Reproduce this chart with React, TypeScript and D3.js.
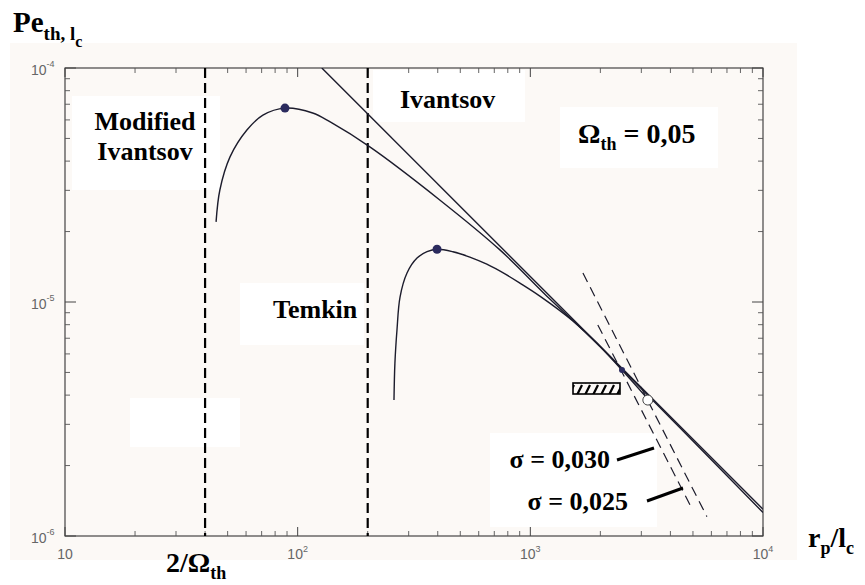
import React from "react";
import * as d3 from "d3";

// values: r_p/l_c (x) and Pe_th,lc (y)
const ivantsov = [
  { r: 127, pe: 1.0e-4 },
  { r: 10000, pe: 1.3e-6 },
];

const modifiedIvantsov = [
  { r: 44.6, pe: 2.2e-5 },
  { r: 46.3, pe: 3.01e-5 },
  { r: 51.2, pe: 4.17e-5 },
  { r: 60.5, pe: 5.43e-5 },
  { r: 70.9, pe: 6.29e-5 },
  { r: 88.2, pe: 6.74e-5 },
  { r: 116, pe: 6.42e-5 },
  { r: 138, pe: 5.88e-5 },
  { r: 205, pe: 4.59e-5 },
  { r: 408, pe: 2.73e-5 },
  { r: 740, pe: 1.67e-5 },
  { r: 1213, pe: 1.03e-5 },
  { r: 1991, pe: 6.49e-6 },
  { r: 2477, pe: 5.17e-6 },
  { r: 4395, pe: 2.9e-6 },
  { r: 10000, pe: 1.26e-6 },
];

const temkin = [
  { r: 259.4, pe: 3.81e-6 },
  { r: 261.8, pe: 5.48e-6 },
  { r: 267.2, pe: 7.59e-6 },
  { r: 275.4, pe: 1.05e-5 },
  { r: 295.1, pe: 1.33e-5 },
  { r: 325.8, pe: 1.54e-5 },
  { r: 359.7, pe: 1.64e-5 },
  { r: 397.2, pe: 1.68e-5 },
  { r: 464.5, pe: 1.64e-5 },
  { r: 549.5, pe: 1.556e-5 },
  { r: 650.1, pe: 1.45e-5 },
  { r: 778, pe: 1.318e-5 },
  { r: 901.6, pe: 1.205e-5 },
  { r: 1099, pe: 1.06e-5 },
  { r: 1524, pe: 8.3e-6 },
  { r: 1991, pe: 6.45e-6 },
  { r: 2477, pe: 5.12e-6 },
  { r: 3199, pe: 3.85e-6 },
];

const sigma030 = [
  { r: 1950, pe: 7.98e-6 },
  { r: 4853, pe: 1.36e-6 },
];
const sigma025 = [
  { r: 1683, pe: 1.33e-5 },
  { r: 5741, pe: 1.21e-6 },
];

const filledMarkers = [
  { r: 88.2, pe: 6.74e-5 },
  { r: 397.2, pe: 1.68e-5 },
  { r: 2477, pe: 5.12e-6 },
];
const openMarkers = [{ r: 3199, pe: 3.81e-6 }];

const boundaries = [40, 200]; // 2/Omega_th and the Temkin limit

const xTicks = [10, 100, 1000, 10000];
const xTickLabels = ["", "2", "3", "4"];
const yTicks = [1e-4, 1e-5, 1e-6];
const yTickLabels = ["-4", "-5", "-6"];

const W = 865;
const H = 585;
const serif = "'Liberation Serif', 'Times New Roman', serif";
const sans = "'Liberation Sans', Arial, sans-serif";
const ink = "#1c1c2c";

export default function App() {
  const x = d3.scaleLog().domain([10, 1e4]).range([65, 763]);
  const y = d3.scaleLog().domain([1e-6, 1e-4]).range([536, 68]);

  const line = d3
    .line<{ r: number; pe: number }>()
    .x((d) => x(d.r))
    .y((d) => y(d.pe));
  const curve = d3
    .line<{ r: number; pe: number }>()
    .x((d) => x(d.r))
    .y((d) => y(d.pe))
    .curve(d3.curveCatmullRom.alpha(0.5));

  // minor log ticks 2..9 in every decade
  const minorX: number[] = [];
  for (let k = 1; k < 4; k++) for (let m = 2; m < 10; m++) minorX.push(m * 10 ** k);
  const minorY: number[] = [];
  for (let k = -6; k < -4; k++) for (let m = 2; m < 10; m++) minorY.push(m * 10 ** k);

  const [x0, x1] = x.range();
  const [y0, y1] = y.range();

  return (
    <svg
      width={W}
      height={H}
      style={{ position: "absolute", left: 0, top: 0, background: "#fff" }}
    >
      <defs>
        <pattern id="hatch" width="8" height="12" patternUnits="userSpaceOnUse">
          <line x1="1" y1="11" x2="6" y2="1" stroke="#000" strokeWidth="2.2" />
        </pattern>
        <clipPath id="plot">
          <rect x={x0} y={y1} width={x1 - x0} height={y0 - y1} />
        </clipPath>
      </defs>

      {/* scanned page background and white label patches */}
      <rect x={10} y={43} width={787} height={517} fill="#fcf9f6" />
      <rect x={72} y={96} width={148} height={94} fill="#fff" />
      <rect x={373} y={70} width={152} height={52} fill="#fff" />
      <rect x={240} y={283} width={124} height={62} fill="#fff" />
      <rect x={560} y={107} width={158} height={61} fill="#fff" />
      <rect x={130} y={398} width={110} height={49} fill="#fff" />
      <rect x={490} y={433} width={167} height={94} fill="#fff" />

      {/* frame */}
      <rect x={x0} y={y1} width={x1 - x0} height={y0 - y1} fill="none" stroke="#333" strokeWidth={1.1} />

      {/* ticks */}
      {minorX.map((t) => (
        <g key={"mx" + t} stroke="#555" strokeWidth={0.9}>
          <line x1={x(t)} x2={x(t)} y1={y0} y2={y0 - 5} />
          <line x1={x(t)} x2={x(t)} y1={y1} y2={y1 + 5} />
        </g>
      ))}
      {xTicks.map((t) => (
        <g key={"X" + t} stroke="#444" strokeWidth={1}>
          <line x1={x(t)} x2={x(t)} y1={y0} y2={y0 - 9} />
          <line x1={x(t)} x2={x(t)} y1={y1} y2={y1 + 9} />
        </g>
      ))}
      {minorY.map((t) => (
        <g key={"my" + t} stroke="#555" strokeWidth={0.9}>
          <line x1={x0} x2={x0 + 5} y1={y(t)} y2={y(t)} />
          <line x1={x1} x2={x1 - 5} y1={y(t)} y2={y(t)} />
        </g>
      ))}
      {yTicks.map((t) => (
        <g key={"Y" + t} stroke="#444" strokeWidth={1}>
          <line x1={x0} x2={x0 + 11} y1={y(t)} y2={y(t)} />
          <line x1={x1} x2={x1 - 11} y1={y(t)} y2={y(t)} />
        </g>
      ))}

      {/* tick labels */}
      {xTicks.map((t, i) => (
        <text key={"xl" + t} x={x(t)} y={559} fill="#666" fontFamily={sans} fontSize={14} textAnchor="middle">
          10
          {xTickLabels[i] && (
            <tspan fontSize={9} dy={-7}>
              {xTickLabels[i]}
            </tspan>
          )}
        </text>
      ))}
      {yTicks.map((t, i) => (
        <text key={"yl" + t} x={31} y={y(t) + 7} fill="#666" fontFamily={sans} fontSize={14}>
          10
          <tspan fontSize={9} dy={-8}>
            {yTickLabels[i]}
          </tspan>
        </text>
      ))}

      {/* regime boundaries */}
      {boundaries.map((b) => (
        <line key={"b" + b} x1={x(b)} x2={x(b)} y1={y1} y2={y0} stroke="#000" strokeWidth={2.2} strokeDasharray="10 5" />
      ))}

      <g clipPath="url(#plot)" fill="none" stroke={ink} strokeWidth={1.4}>
        <path d={line(ivantsov) || ""} />
        <path d={curve(modifiedIvantsov) || ""} />
        <path d={curve(temkin) || ""} />
        <path d={line(sigma030) || ""} strokeWidth={1.2} strokeDasharray="10 6" />
        <path d={line(sigma025) || ""} strokeWidth={1.2} strokeDasharray="10 6" />
      </g>

      {filledMarkers.map((d, i) => (
        <circle key={"f" + i} cx={x(d.r)} cy={y(d.pe)} r={i === 2 ? 3 : 4.5} fill="#2b2b5e" />
      ))}
      {openMarkers.map((d, i) => (
        <circle key={"o" + i} cx={x(d.r)} cy={y(d.pe)} r={5} fill="#fff" stroke="#444" strokeWidth={1} />
      ))}

      {/* hatched box */}
      <rect x={573} y={383} width={47} height={11} fill="url(#hatch)" stroke="#000" strokeWidth={1.6} />

      {/* pointer strokes for the sigma labels */}
      <line x1={617} y1={460} x2={654} y2={448} stroke="#000" strokeWidth={3} />
      <line x1={647} y1={501} x2={683} y2={488} stroke="#000" strokeWidth={3} />

      {/* labels */}
      <g fontFamily={serif} fontWeight="bold" fill="#000">
        <text x={13} y={32} fontSize={29}>
          Pe
          <tspan fontSize={19} dy={8}>th, l</tspan>
          <tspan fontSize={16} dy={7}>c</tspan>
        </text>
        <text x={145} y={130} fontSize={26} textAnchor="middle">Modified</text>
        <text x={145} y={160} fontSize={26} textAnchor="middle">Ivantsov</text>
        <text x={400} y={108} fontSize={26}>Ivantsov</text>
        <text x={273} y={318} fontSize={26}>Temkin</text>
        <text x={578} y={143} fontSize={28}>
          Ω<tspan fontSize={18} dy={7}>th</tspan>
          <tspan dy={-7}> = 0,05</tspan>
        </text>
        <text x={166} y={572} fontSize={28}>
          2/Ω<tspan fontSize={18} dy={7}>th</tspan>
        </text>
        <text x={808} y={547} fontSize={28}>
          r<tspan fontSize={18} dy={7}>p</tspan>
          <tspan dy={-7}>/l</tspan>
          <tspan fontSize={18} dy={7}>c</tspan>
        </text>
        <text x={610} y={468} fontSize={26} textAnchor="end">σ = 0,030</text>
        <text x={628} y={510} fontSize={26} textAnchor="end">σ = 0,025</text>
      </g>
    </svg>
  );
}
